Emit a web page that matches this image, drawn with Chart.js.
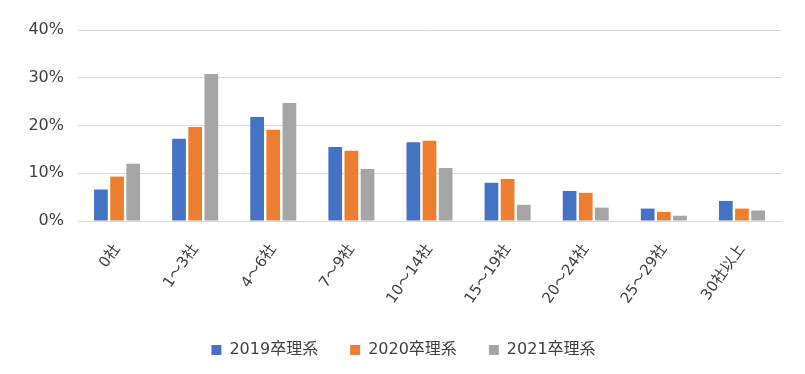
<!DOCTYPE html>
<html>
<head>
<meta charset="utf-8">
<script src="https://cdn.jsdelivr.net/npm/chart.js@4"></script>
<style>
  body { margin: 0; background: #fff; }
  #wrap { width: 805px; height: 374px; }
</style>
</head>
<body>
<div id="wrap"><canvas id="chart" width="805" height="374"></canvas></div>
<script>
// DATA
const categories = ['0社', '1～3社', '4～6社', '7～9社', '10～14社', '15～19社', '20～24社', '25～29社', '30社以上'];
const seriesNames = ['2019卒理系', '2020卒理系', '2021卒理系'];
const grad2019 = [6.6, 17.2, 21.8, 15.5, 16.5, 8.0, 6.3, 2.6, 4.2];
const grad2020 = [9.3, 19.7, 19.1, 14.7, 16.8, 8.8, 5.9, 1.9, 2.6];
const grad2021 = [12.0, 30.8, 24.7, 10.9, 11.1, 3.4, 2.8, 1.1, 2.2];
const yTicks = [0, 10, 20, 30, 40];

const colors = ['#4472C4', '#ED7D31', '#A5A5A5'];
const font = '"DejaVu Sans", "Noto Sans CJK JP", sans-serif';
const textColor = '#404040';

const ctx = document.getElementById('chart').getContext('2d');
new Chart(ctx, {
  type: 'bar',
  data: {
    labels: categories,
    datasets: [grad2019, grad2020, grad2021].map((d, i) => ({
      label: seriesNames[i],
      data: d,
      backgroundColor: colors[i],
      barPercentage: 0.85,
      categoryPercentage: 0.62
    }))
  },
  options: {
    responsive: false,
    animation: false,
    layout: { padding: { top: 30, right: 24, left: 26, bottom: 6 } },
    plugins: {
      tooltip: { enabled: false },
      legend: {
        position: 'bottom',
        labels: {
          color: textColor,
          font: { family: font, size: 16 },
          boxWidth: 10,
          boxHeight: 10,
          padding: 32
        }
      }
    },
    scales: {
      x: {
        grid: { display: false, drawTicks: false },
        border: { display: true, color: '#d9d9d9' },
        ticks: {
          color: textColor,
          font: { family: font, size: 15 },
          minRotation: 55,
          maxRotation: 55,
          padding: 20
        },
        afterFit: s => { s.height = 89; }
      },
      y: {
        min: 0,
        max: 40,
        afterBuildTicks: s => { s.ticks = yTicks.map(v => ({ value: v })); },
        grid: { color: '#d9d9d9', drawTicks: false },
        border: { display: false },
        ticks: {
          color: textColor,
          font: { family: font, size: 16 },
          padding: 14,
          callback: v => v + '%'
        },
        afterFit: s => { s.width = 52; }
      }
    }
  }
});
</script>
</body>
</html>
